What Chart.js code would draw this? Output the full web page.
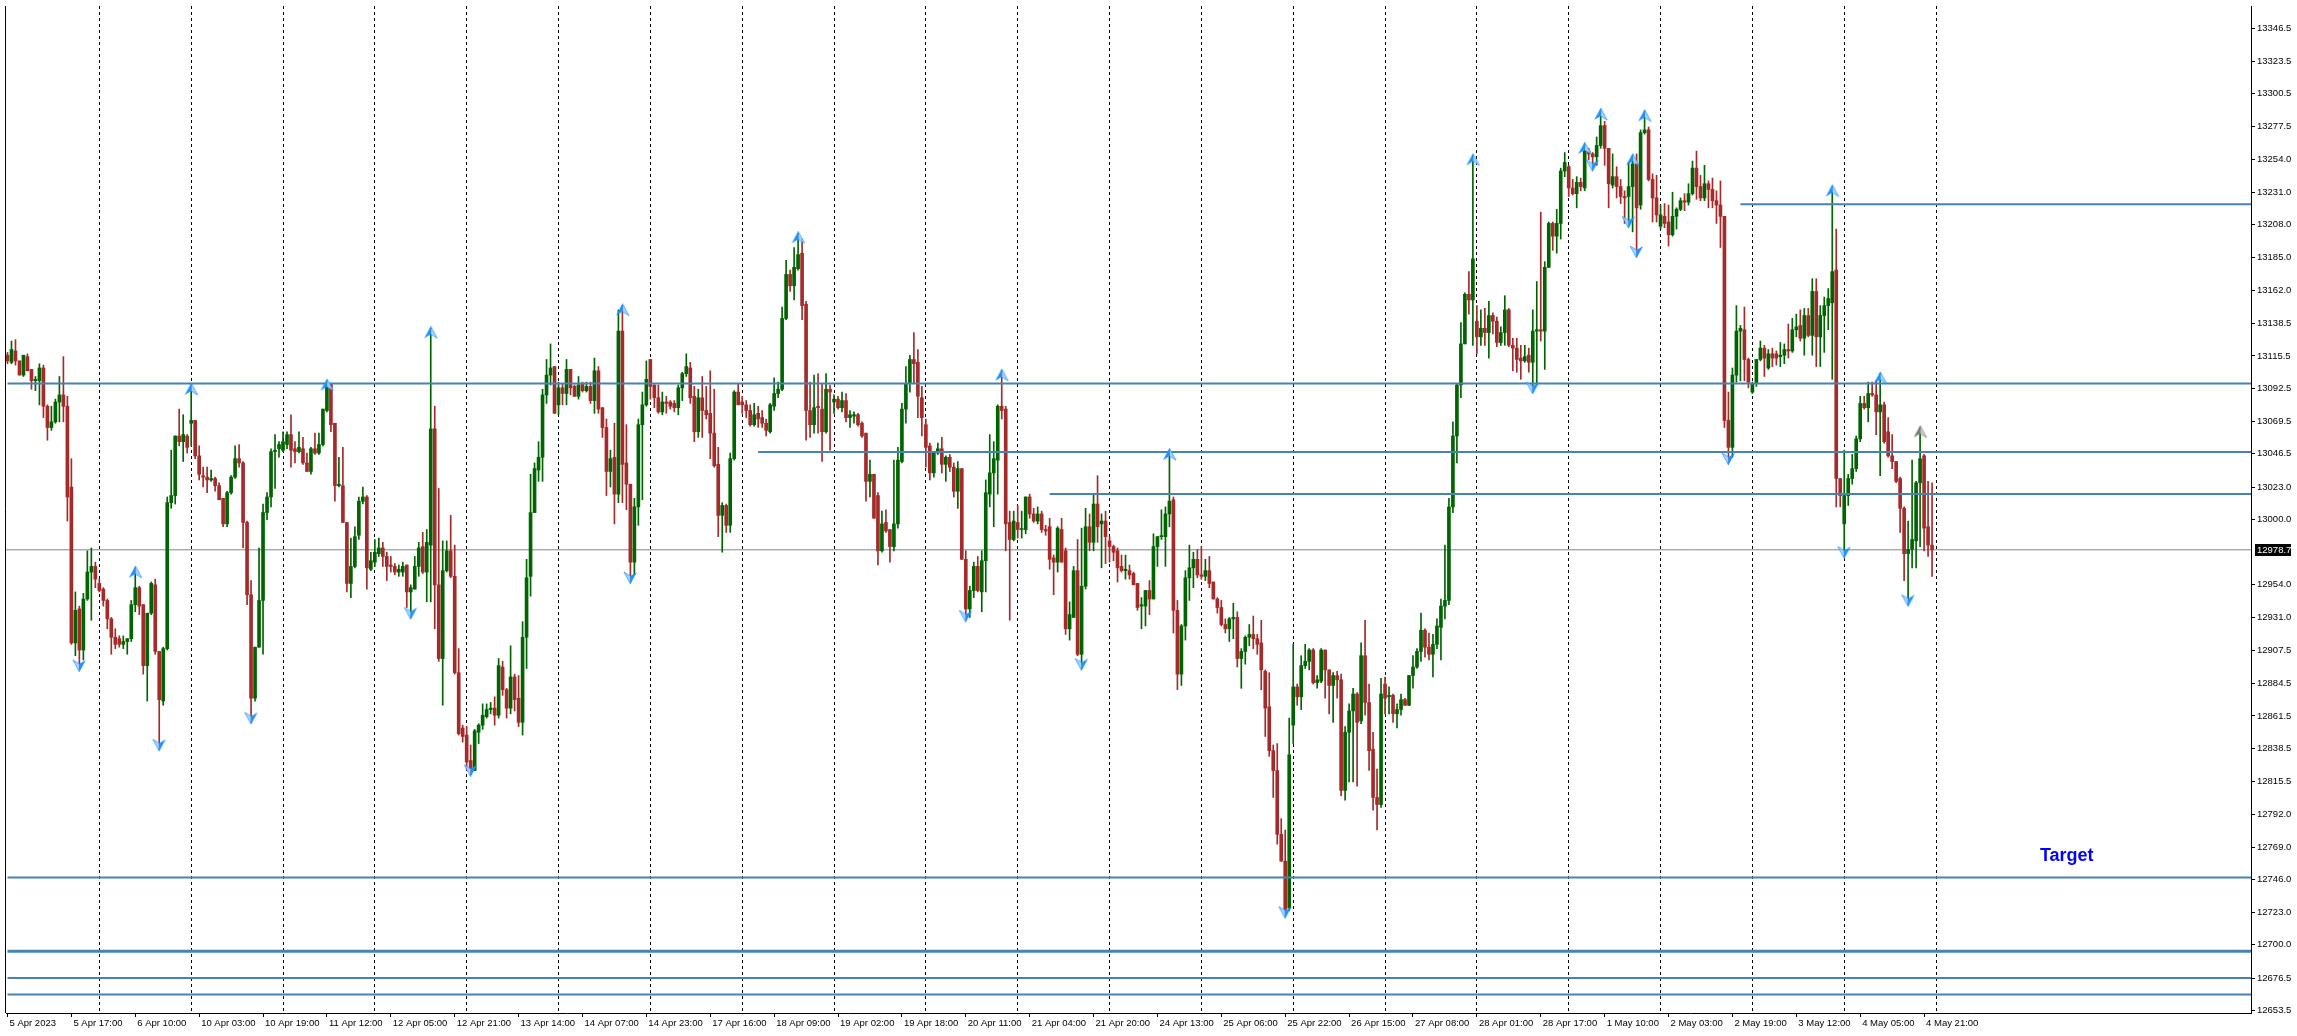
<!DOCTYPE html>
<html>
<head>
<meta charset="utf-8">
<title>H1 chart</title>
<script src="https://cdn.jsdelivr.net/npm/chart.js@4.4.0/dist/chart.umd.min.js"></script>
<style>
  html, body { margin: 0; padding: 0; background: #fff; }
  #wrap { width: 2297px; height: 1036px; }
</style>
</head>
<body>
<div id="wrap"><canvas id="chart" width="2297" height="1036"></canvas></div>
<script>
// hourly candles, one row per trading day (23 bars)
const openP = [
  13116,13111,13119,13112,13102,13115,13106,13098,13098,13107,13080,13065,13069,13083,13088,13080,13023,12913,12937,12908,12944,12963,12967,
  12955,12951,12943,12930,12917,12916,12912,12914,12916,12940,12952,12940,12897,12934,12954,12907,12872,12909,13012,13017,13059,13055,13059,
  13068,13070,13045,13031,13030,13028,13029,13024,13015,12997,13019,13030,13043,13040,12998,12947,12874,12910,12943,13005,13016,13048,13050,
  13049,13053,13060,13050,13048,13050,13040,13034,13050,13047,13053,13077,13096,13068,13024,13024,12998,12955,12967,12989,13013,13016,12965,
  12970,12976,12980,12974,12968,12967,12963,12963,12968,12949,12951,12967,12981,12963,12982,13064,12954,12902,12964,12978,12960,12892,12853,
  12848,12830,12823,12850,12855,12861,12866,12867,12862,12896,12880,12867,12889,12874,12857,12917,12960,13005,13035,13044,13088,13102,13108,
  13081,13093,13089,13106,13094,13087,13096,13091,13094,13084,13105,13079,13065,13034,13044,13018,13133,13040,13025,12970,13009,13067,13081,
  13113,13095,13086,13076,13083,13083,13082,13079,13093,13103,13107,13087,13062,13086,13077,13075,13061,13039,13003,13010,12996,13043,13090,
  13083,13081,13077,13067,13075,13072,13068,13062,13080,13089,13092,13142,13173,13165,13177,13188,13152,13077,13067,13080,13078,13062,13092,
  13083,13085,13079,13084,13072,13073,13074,13068,13061,13027,13032,13017,12978,12998,12993,12981,12997,13041,13078,13096,13113,13111,13086,
  13067,13052,13033,13047,13050,13039,13044,13037,13020,13036,12972,12937,12950,12967,12949,12971,13018,13033,13042,13080,13078,12998,12986,
  12998,12993,12993,13016,13004,12999,13004,12993,12995,12973,12970,12993,12978,12923,12931,12964,12905,12953,12995,12984,13011,12997,12999,
  12985,12981,12978,12967,12964,12964,12962,12955,12939,12939,12950,12944,12981,12988,12988,13004,13014,12936,12891,12925,12959,12966,12972,
  12961,12960,12964,12956,12944,12938,12926,12923,12930,12931,12902,12907,12917,12919,12916,12913,12893,12868,12837,12823,12778,12759,12726,
  12855,12882,12875,12897,12900,12908,12885,12886,12908,12894,12883,12890,12887,12809,12850,12865,12877,12858,12904,12871,12838,12804,12799,
  12884,12875,12876,12863,12866,12873,12869,12890,12896,12907,12922,12910,12905,12912,12924,12939,12943,13009,13059,13095,13124,13159,13155,
  13140,13129,13135,13132,13144,13140,13125,13132,13148,13123,13121,13114,13112,13116,13111,13133,13134,13133,13178,13209,13200,13209,13246,
  13249,13234,13230,13238,13234,13260,13258,13256,13264,13278,13262,13236,13242,13235,13228,13228,13235,13251,13222,13273,13275,13240,13227,
  13207,13214,13210,13201,13214,13219,13225,13224,13230,13248,13235,13227,13237,13233,13225,13222,13214,13070,13051,13102,13133,13134,13113,
  13090,13096,13113,13121,13107,13117,13117,13115,13116,13120,13119,13134,13137,13128,13144,13130,13161,13129,13144,13151,13153,13176,13029,
  12997,13017,13029,13036,13057,13082,13079,13089,13088,13076,13081,13062,13045,13041,13029,13008,12976,12979,12985,13026,13045,12995,12982
];
const highP = [
  13118,13126,13127,13112,13116,13117,13106,13101,13110,13109,13081,13080,13085,13101,13115,13087,13043,12949,12939,12948,12978,12980,12970,
  12958,12952,12944,12931,12923,12918,12918,12916,12943,12966,12953,12940,12934,12956,12958,12907,12910,13016,13049,13059,13078,13074,13060,
  13095,13070,13052,13037,13037,13035,13030,13026,13015,13020,13031,13052,13053,13041,12999,12957,12910,12980,13011,13019,13050,13060,13055,
  13062,13062,13074,13055,13062,13058,13047,13051,13061,13061,13078,13098,13096,13068,13044,13051,12998,12987,12995,13016,13023,13017,12977,
  12986,12987,12984,12977,12974,12969,12968,12970,12968,12954,12974,12984,12991,12993,13135,13080,13022,12985,12985,13003,12982,12909,12855,
  12854,12841,12852,12856,12870,12870,12871,12875,12902,12900,12881,12911,12891,12890,12928,12972,13032,13040,13055,13092,13113,13124,13108,
  13097,13096,13113,13106,13095,13101,13097,13097,13097,13114,13108,13079,13071,13049,13068,13148,13151,13067,13025,13015,13071,13090,13112,
  13113,13095,13095,13090,13087,13084,13084,13095,13104,13117,13111,13094,13092,13101,13094,13105,13092,13051,13012,13011,13047,13091,13096,
  13087,13084,13081,13082,13080,13077,13071,13082,13100,13097,13150,13183,13176,13192,13202,13198,13154,13097,13102,13103,13096,13103,13095,
  13088,13087,13090,13089,13077,13076,13075,13069,13061,13042,13032,13019,13006,13007,12993,13042,13051,13082,13108,13116,13132,13120,13094,
  13071,13054,13047,13054,13058,13045,13046,13040,13041,13036,12978,12953,12970,12974,12978,13028,13060,13055,13081,13105,13080,13006,13006,
  13010,13006,13016,13018,13008,13009,13006,12996,13001,12975,12995,13001,12980,12942,12967,12986,12994,13008,13004,13018,13031,13004,13006,
  12988,12982,12980,12975,12975,12968,12963,12955,12945,12950,12957,12990,12988,13007,13009,13049,13016,12943,12926,12964,12982,12977,12979,
  12981,12972,12974,12956,12945,12943,12930,12931,12941,12935,12909,12918,12926,12932,12919,12929,12894,12892,12841,12842,12789,12781,12860,
  12912,12884,12904,12912,12909,12909,12890,12909,12908,12894,12892,12893,12891,12854,12870,12881,12878,12913,12929,12884,12850,12824,12888,
  12889,12882,12877,12870,12877,12874,12890,12904,12909,12934,12923,12920,12919,12930,12944,12982,13015,13069,13096,13139,13160,13175,13257,
  13151,13148,13149,13154,13146,13143,13136,13158,13149,13128,13128,13123,13123,13121,13148,13168,13217,13182,13210,13210,13219,13248,13259,
  13250,13240,13242,13241,13265,13262,13259,13270,13289,13281,13262,13258,13249,13240,13232,13252,13257,13258,13275,13288,13277,13244,13243,
  13222,13223,13222,13231,13220,13227,13230,13237,13253,13260,13243,13250,13239,13241,13232,13239,13214,13090,13107,13151,13137,13150,13114,
  13097,13113,13126,13123,13120,13121,13119,13125,13124,13138,13142,13145,13148,13149,13149,13170,13170,13151,13157,13163,13235,13205,13029,
  13049,13032,13046,13059,13087,13087,13097,13097,13098,13103,13083,13072,13060,13041,13030,13009,12999,13042,13027,13065,13046,13027,13026
];
const lowP = [
  13110,13110,13109,13102,13101,13105,13092,13091,13081,13072,13056,13063,13068,13069,13069,12999,12912,12904,12894,12901,12943,12929,12952,
  12949,12939,12923,12905,12909,12910,12909,12905,12914,12935,12933,12891,12872,12933,12905,12838,12869,12908,13008,13011,13052,13041,13047,
  13052,13043,13028,13023,13019,13027,13020,13014,12995,12995,13018,13029,13037,12980,12940,12857,12872,12910,12905,13000,13009,13022,13044,
  13048,13050,13037,13040,13047,13039,13034,13032,13046,13046,13052,13076,13062,13013,13023,12998,12949,12945,12966,12986,13011,12951,12964,
  12967,12974,12967,12957,12963,12961,12960,12960,12938,12931,12951,12960,12962,12942,12942,12923,12900,12869,12963,12959,12891,12848,12843,
  12823,12820,12823,12842,12852,12860,12863,12855,12860,12876,12860,12863,12865,12854,12848,12895,12946,13005,13027,13027,13082,13095,13075,
  13074,13081,13081,13088,13087,13085,13090,13090,13082,13075,13075,13058,13017,13023,12997,13012,13012,13007,12956,12961,12996,13014,13080,
  13085,13079,13075,13074,13075,13078,13076,13074,13084,13101,13082,13055,13058,13058,13071,13043,13037,12988,12977,12991,12991,13042,13081,
  13075,13072,13066,13066,13065,13065,13059,13061,13077,13086,13091,13141,13161,13155,13176,13141,13056,13058,13061,13061,13041,13061,13049,
  13075,13078,13076,13069,13065,13068,13066,13058,13013,13016,13001,12968,12977,12991,12970,12978,12994,13040,13068,13090,13096,13072,13059,
  13037,13028,13030,13046,13033,13027,13034,13016,13008,12972,12929,12931,12945,12949,12935,12949,13009,12995,13018,13071,12978,12929,12985,
  12987,12987,12990,13001,12998,12997,12991,12989,12965,12947,12963,12970,12919,12915,12931,12904,12895,12951,12978,12978,12984,12966,12969,
  12970,12971,12956,12963,12958,12958,12954,12936,12923,12925,12933,12944,12967,12986,12967,12995,12920,12880,12883,12915,12943,12952,12959,
  12958,12957,12952,12944,12934,12925,12920,12914,12916,12896,12881,12898,12911,12909,12905,12880,12847,12833,12804,12771,12759,12720,12724,
  12842,12869,12866,12895,12894,12884,12881,12885,12874,12863,12857,12874,12805,12802,12815,12815,12812,12856,12862,12823,12795,12781,12797,
  12863,12863,12857,12853,12862,12869,12869,12881,12895,12900,12903,12901,12889,12909,12901,12930,12940,13005,13040,13086,13124,13145,13123,
  13117,13123,13123,13114,13131,13122,13123,13123,13122,13105,13104,13099,13111,13104,13090,13095,13126,13106,13178,13190,13188,13198,13242,
  13228,13229,13220,13232,13232,13254,13247,13250,13262,13250,13220,13234,13227,13223,13209,13207,13203,13186,13219,13272,13239,13210,13210,
  13205,13206,13193,13200,13205,13218,13218,13222,13229,13226,13225,13225,13220,13220,13209,13192,13065,13040,13044,13097,13098,13098,13093,
  13089,13094,13112,13101,13106,13108,13109,13108,13110,13114,13118,13129,13126,13116,13129,13116,13108,13108,13118,13134,13099,13009,13009,
  12974,13010,13025,13034,13055,13078,13069,13087,13060,13031,13054,13044,13036,13026,12991,12957,12940,12966,12966,12981,12978,12974,12960
];
const closeP = [
  13112,13120,13112,13102,13116,13105,13098,13099,13107,13080,13065,13069,13083,13088,13080,13016,12913,12936,12908,12944,12963,12967,12958,
  12950,12943,12930,12917,12912,12912,12914,12916,12940,12952,12939,12897,12934,12955,12907,12873,12909,13012,13017,13059,13055,13060,13051,
  13070,13045,13032,13030,13028,13029,13024,13014,12997,13019,13030,13043,13040,12998,12947,12874,12910,12943,13005,13016,13048,13049,13053,
  13055,13060,13049,13048,13051,13040,13034,13050,13047,13053,13078,13094,13067,13024,13025,12998,12955,12967,12988,13013,13016,12966,12971,
  12977,12980,12974,12967,12967,12963,12965,12967,12949,12952,12967,12980,12963,12984,13064,12954,12902,12964,12978,12960,12892,12849,12847,
  12829,12823,12851,12855,12862,12866,12867,12862,12897,12880,12867,12889,12873,12857,12917,12959,13005,13036,13044,13088,13102,13107,13075,
  13093,13089,13106,13093,13087,13095,13091,13094,13084,13105,13078,13065,13034,13043,13018,13133,13039,13025,12970,13009,13067,13081,13099,
  13094,13086,13076,13083,13082,13080,13079,13093,13103,13108,13086,13062,13086,13077,13074,13061,13038,13003,13010,12996,13043,13090,13081,
  13081,13077,13067,13074,13071,13068,13063,13081,13089,13092,13142,13173,13165,13178,13187,13151,13077,13067,13079,13079,13062,13092,13090,
  13085,13079,13084,13072,13074,13074,13067,13059,13027,13032,13001,12978,12997,12992,12981,12997,13042,13078,13096,13113,13110,13087,13072,
  13051,13033,13047,13050,13039,13044,13037,13020,13036,12972,12937,12950,12967,12950,12971,13019,13033,13043,13080,13077,12997,12986,12999,
  12993,12993,13016,13004,12999,13004,12993,12992,12972,12970,12994,12970,12923,12933,12964,12905,12953,12995,12984,13011,12995,12999,12988,
  12981,12977,12966,12964,12965,12961,12954,12938,12940,12950,12944,12981,12988,12988,13004,13013,12936,12891,12925,12959,12966,12972,12961,
  12960,12964,12955,12944,12938,12926,12923,12930,12931,12902,12907,12917,12919,12916,12912,12894,12867,12837,12823,12778,12759,12725,12834,
  12882,12875,12897,12900,12908,12885,12887,12908,12894,12883,12890,12887,12809,12850,12865,12877,12857,12904,12871,12837,12804,12799,12877,
  12874,12876,12863,12866,12873,12869,12890,12896,12907,12922,12910,12905,12912,12925,12939,12943,13009,13059,13095,13124,13159,13155,13184,
  13129,13135,13132,13144,13140,13125,13132,13148,13123,13121,13113,13112,13115,13111,13133,13134,13133,13178,13209,13200,13209,13246,13252,
  13234,13230,13238,13235,13260,13258,13256,13264,13278,13262,13237,13242,13235,13228,13227,13235,13251,13220,13273,13275,13240,13227,13215,
  13215,13209,13201,13214,13219,13225,13224,13230,13248,13235,13227,13237,13233,13225,13222,13214,13070,13051,13102,13133,13135,13113,13097,
  13096,13113,13121,13114,13117,13114,13114,13116,13120,13119,13134,13136,13128,13144,13130,13161,13129,13144,13151,13156,13175,13029,13017,
  13017,13029,13036,13057,13082,13079,13089,13088,13076,13081,13055,13045,13041,13027,13008,12976,12979,12986,13026,13043,12994,12982,12978.7
];

// bar numbers of the swing arrows
const arrowUpBars = [32, 46, 80, 106, 154, 198, 249, 291, 367, 395, 399, 407, 410, 457, 469];
const arrowUpGrayBars = [479];
const arrowDownBars = [18, 38, 61, 101, 116, 156, 240, 269, 320, 382, 397, 406, 408, 431, 460, 476];

// horizontal levels and the bar each one starts from
const levelPrices = [13222.5, 13096.0, 13047.8, 13018.0, 12747.5, 12695.5, 12676.6, 12665.0];
const levelFromBar = [434, 0, 188, 261, 0, 0, 0, 0];
const lastPrice = 12978.7;

// first bar of each trading day (period separators)
const dayStartBars = [23, 46, 69, 92, 115, 138, 161, 184, 207, 230, 253, 276, 299, 322, 345, 368, 391, 414, 437, 460, 483];

const xTickBars = [0, 16, 32, 48, 64, 80, 96, 112, 128, 144, 160, 176, 192, 208, 224, 240, 256, 272, 288, 304, 320, 336, 352, 368, 384, 400, 416, 432, 448, 464, 480];
const xTickLabels = ['5 Apr 2023', '5 Apr 17:00', '6 Apr 10:00', '10 Apr 03:00', '10 Apr 19:00', '11 Apr 12:00', '12 Apr 05:00',
  '12 Apr 21:00', '13 Apr 14:00', '14 Apr 07:00', '14 Apr 23:00', '17 Apr 16:00', '18 Apr 09:00', '19 Apr 02:00', '19 Apr 18:00',
  '20 Apr 11:00', '21 Apr 04:00', '21 Apr 20:00', '24 Apr 13:00', '25 Apr 06:00', '25 Apr 22:00', '26 Apr 15:00', '27 Apr 08:00',
  '28 Apr 01:00', '28 Apr 17:00', '1 May 10:00', '2 May 03:00', '2 May 19:00', '3 May 12:00', '4 May 05:00', '4 May 21:00'];
const yTickValues = [13346.5, 13323.5, 13300.5, 13277.5, 13254.0, 13231.0, 13208.0, 13185.0, 13162.0, 13138.5, 13115.5, 13092.5,
  13069.5, 13046.5, 13023.0, 13000.0, 12954.0, 12931.0, 12907.5, 12884.5, 12861.5, 12838.5, 12815.5, 12792.0, 12769.0, 12746.0,
  12723.0, 12700.0, 12676.5, 12653.5];

const targetText = 'Target';
const targetBar = 509;
const targetPrice = 12763;

const xMin = -0.375, xMax = 561.875;
const yMin = 12651.9, yMax = 13362.4;

const bullColor = '#006400';
const bearColor = '#A52A2A';
const levelColor = '#4682B4';
const fontFamily = '"Liberation Sans", Arial, sans-serif';

const bars = openP.map((_, i) => i);
const candleColors = bars.map(i => closeP[i] >= openP[i] ? bullColor : bearColor);

function arrowImage(up, solid, light) {
  const c = document.createElement('canvas');
  c.width = 15; c.height = 30;
  const g = c.getContext('2d');
  const tip = up ? 13 : 17, base = up ? 25 : 5, notch = up ? 21 : 9;
  const solidSide = up ? 1 : 14, lightSide = up ? 14 : 1;
  g.beginPath();
  g.moveTo(7.5, tip); g.lineTo(lightSide, base); g.lineTo(7.5, notch); g.closePath();
  g.fillStyle = light; g.fill();
  g.strokeStyle = solid; g.lineWidth = 0.7; g.stroke();
  g.beginPath();
  g.moveTo(7.5, tip); g.lineTo(solidSide, base); g.lineTo(7.5, notch); g.closePath();
  g.fillStyle = solid; g.fill();
  return c;
}

const levelDatasets = levelPrices.map((p, k) => ({
  type: 'line',
  data: [{ x: levelFromBar[k], y: p }, { x: xMax, y: p }],
  borderColor: levelColor,
  borderWidth: p === 12695.5 ? 3 : 2,
  pointRadius: 0,
  fill: false,
  order: 1
}));

const decor = {
  id: 'decor',
  beforeDatasetsDraw(chart) {
    const { ctx, chartArea: a, scales: { x } } = chart;
    ctx.save();
    ctx.strokeStyle = '#000';
    ctx.lineWidth = 1;
    ctx.setLineDash([3, 3]);
    dayStartBars.forEach(b => {
      const px = Math.floor(x.getPixelForValue(b)) + 0.5;
      ctx.beginPath();
      ctx.moveTo(px, a.top);
      ctx.lineTo(px, a.bottom);
      ctx.stroke();
    });
    ctx.restore();
  },
  afterDraw(chart) {
    const { ctx, chartArea: a, scales: { x, y } } = chart;
    ctx.save();
    // left frame
    ctx.strokeStyle = '#000';
    ctx.lineWidth = 1;
    ctx.beginPath();
    ctx.moveTo(a.left - 0.5, a.top);
    ctx.lineTo(a.left - 0.5, a.bottom);
    ctx.stroke();
    // last price tag
    const py = Math.round(y.getPixelForValue(lastPrice));
    ctx.fillStyle = '#000';
    ctx.fillRect(a.right + 4, py - 6, 36, 12);
    ctx.fillStyle = '#fff';
    ctx.font = '9.5px ' + fontFamily;
    ctx.textBaseline = 'middle';
    ctx.textAlign = 'left';
    ctx.fillText(lastPrice.toFixed(1), a.right + 6, py + 0.5);
    // target label
    ctx.fillStyle = '#0000FF';
    ctx.font = 'bold 18px ' + fontFamily;
    ctx.fillText(targetText, x.getPixelForValue(targetBar), y.getPixelForValue(targetPrice));
    ctx.restore();
  }
};

const ctx = document.getElementById('chart').getContext('2d');
const myChart = new Chart(ctx, {
  type: 'bar',
  data: {
    datasets: [
      {
        type: 'scatter',
        data: arrowUpBars.map(i => ({ x: i, y: highP[i] })),
        pointStyle: arrowImage(true, '#1E90FF', '#A9D3FF'),
        pointRadius: 5,
        order: 0
      },
      {
        type: 'scatter',
        data: arrowUpGrayBars.map(i => ({ x: i, y: highP[i] })),
        pointStyle: arrowImage(true, '#7A7A7A', '#CFCFCF'),
        pointRadius: 5,
        order: 0
      },
      {
        type: 'scatter',
        data: arrowDownBars.map(i => ({ x: i, y: lowP[i] })),
        pointStyle: arrowImage(false, '#1E90FF', '#A9D3FF'),
        pointRadius: 5,
        order: 0
      },
      ...levelDatasets,
      {
        label: 'bodies',
        data: bars.map(i => ({ x: i, y: [openP[i], closeP[i]] })),
        backgroundColor: candleColors,
        barThickness: 3,
        minBarLength: 1,
        borderWidth: 0,
        grouped: false,
        order: 2
      },
      {
        label: 'wicks',
        data: bars.map(i => ({ x: i, y: [lowP[i], highP[i]] })),
        backgroundColor: candleColors,
        barThickness: 1,
        minBarLength: 1,
        borderWidth: 0,
        grouped: false,
        order: 3
      },
      {
        type: 'line',
        data: [{ x: xMin, y: lastPrice }, { x: xMax, y: lastPrice }],
        borderColor: '#778899',
        borderWidth: 1,
        pointRadius: 0,
        fill: false,
        order: 4
      }
    ]
  },
  options: {
    responsive: false,
    animation: false,
    devicePixelRatio: 1,
    layout: { padding: { left: 2, top: 0, right: 0, bottom: 0 } },
    plugins: { legend: { display: false }, tooltip: { enabled: false } },
    scales: {
      x: {
        type: 'linear',
        position: 'bottom',
        offset: false,
        min: xMin,
        max: xMax,
        grid: { offset: false, drawOnChartArea: false, tickLength: 4, color: '#000', tickColor: '#000' },
        border: { display: true, color: '#000', width: 1 },
        ticks: {
          autoSkip: false, maxRotation: 0, minRotation: 0, align: 'start', labelOffset: 2, padding: 1,
          color: '#000', font: { family: fontFamily, size: 9.5 },
          callback: (v, i) => xTickLabels[i]
        },
        afterBuildTicks: ax => { ax.ticks = xTickBars.map(v => ({ value: v })); },
        afterFit: ax => { ax.height = 23; ax.paddingLeft = 0; ax.paddingRight = 0; }
      },
      y: {
        type: 'linear',
        position: 'right',
        min: yMin,
        max: yMax,
        grid: { drawOnChartArea: false, tickLength: 4, color: '#000', tickColor: '#000' },
        border: { display: true, color: '#000', width: 1 },
        ticks: {
          autoSkip: false, padding: 2, color: '#000', font: { family: fontFamily, size: 9.5 },
          callback: v => Number(v).toFixed(1)
        },
        afterBuildTicks: ax => { ax.ticks = yTickValues.map(v => ({ value: v })); },
        afterFit: ax => { ax.width = 46; ax.paddingTop = 0; ax.paddingBottom = 0; }
      }
    }
  },
  plugins: [decor]
});
</script>
</body>
</html>
